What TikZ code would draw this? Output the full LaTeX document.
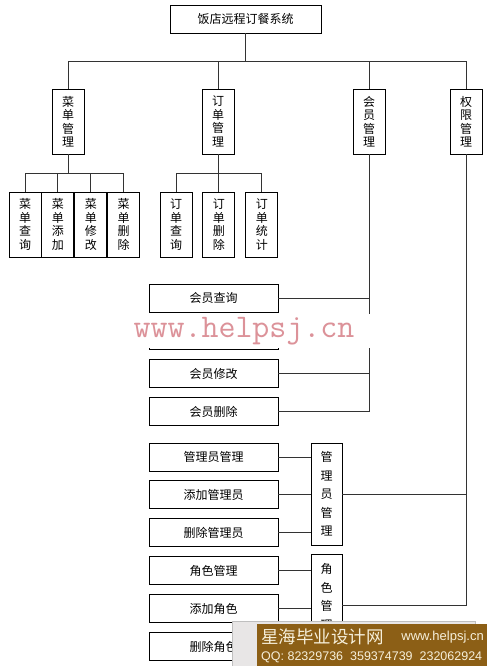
\documentclass[tikz,border=0pt]{standalone}
\usepackage{fontspec}
\setmainfont{Noto Sans CJK SC}
\newfontfamily\latinfont{Liberation Sans}
\usetikzlibrary{positioning}
\definecolor{WaterPink}{HTML}{DC9299}
\definecolor{BannerBrown}{HTML}{8C5F16}
\definecolor{BannerGray}{HTML}{E8E6E6}
\definecolor{BannerText}{HTML}{F6EFDA}

\begin{document}
\begin{tikzpicture}[
        x=1pt, y=-1pt,
        font=\fontsize{12}{13.5}\selectfont,
        node distance=9pt,
        box/.style={draw, line width=0.9pt, inner sep=0pt, align=center},
        vbox/.style={box, minimum width=32, minimum height=65},
        hbox/.style={box, minimum width=129, minimum height=28},
        tallbox/.style={box, minimum width=31, minimum height=102, font=\fontsize{12}{18.5}\selectfont},
        link/.style={draw=black!80, line width=0.9pt}
      ]
        \useasboundingbox (0,0) rectangle (487,666);
        \node[box, minimum width=151, minimum height=28] (root) at (245.5,19) {饭店远程订餐系统};
        \node[vbox] (menu) at (68,121.5) {菜\\单\\管\\理};
        \node[vbox] (order) at (218,121.5) {订\\单\\管\\理};
        \node[vbox] (member) at (369,121.5) {会\\员\\管\\理};
        \node[vbox] (perm) at (466,121.5) {权\\限\\管\\理};
        \node[vbox] (mq) at (25,224.5) {菜\\单\\查\\询};
        \node[vbox, right=0pt of mq] (ma) {菜\\单\\添\\加};
        \node[vbox, right=0pt of ma] (me) {菜\\单\\修\\改};
        \node[vbox, right=0pt of me] (md) {菜\\单\\删\\除};
        \node[vbox] (oq) at (176,224.5) {订\\单\\查\\询};
        \node[vbox, right=10pt of oq] (od) {订\\单\\删\\除};
        \node[vbox, right=10pt of od] (os) {订\\单\\统\\计};
        \node[hbox] (vq) at (213.5,298) {会员查询};
        \node[hbox, below=of vq] (va) {};
        \node[hbox, below=of va] (ve) {会员修改};
        \node[hbox, below=of ve] (vd) {会员删除};
        \node[hbox] (am) at (213.5,457) {管理员管理};
        \node[hbox, below=of am] (aa) {添加管理员};
        \node[hbox, below=of aa] (ad) {删除管理员};
        \node[hbox, below=of ad] (rm) {角色管理};
        \node[hbox, below=of rm] (ra) {添加角色};
        \node[hbox, below=of ra] (rd) {删除角色};
        \node[tallbox] (agrp) at (326.5,494) {管\\理\\员\\管\\理};
        \node[tallbox, below=of agrp] (rgrp) {角\\色\\管\\理\\\mbox{}};
        \coordinate (topbus) at (0,61);
        \coordinate (menubus) at (0,173);
        \draw[link] (root.south) -- (root.south |- topbus);
        \draw[link] (menu.north) |- (perm.north |- topbus) -- (perm.north);
        \draw[link] (order.north) -- (order.north |- topbus);
        \draw[link] (member.north) -- (member.north |- topbus);
        \draw[link] (menu.south) -- (menu.south |- menubus);
        \draw[link] (mq.north) |- (md.north |- menubus) -- (md.north);
        \draw[link] (ma.north) -- (ma.north |- menubus);
        \draw[link] (me.north) -- (me.north |- menubus);
        \draw[link] (order.south) -- (order.south |- menubus);
        \draw[link] (oq.north) |- (os.north |- menubus) -- (os.north);
        \draw[link] (od.north) -- (od.north |- menubus);
        \draw[link] (member.south) |- (vd.east);
        \foreach \n in {vq,va,ve}
          \draw[link] (\n.east) -- (\n.east -| member.south);
        \foreach \n in {am,aa,ad}
          \draw[link] (\n.east) -- (\n.east -| agrp.west);
        \foreach \n in {rm,ra,rd}
          \draw[link] (\n.east) -- (\n.east -| rgrp.west);
        \draw[link] (perm.south) |- (rgrp.east);
        \draw[link] (agrp.east) -- (agrp.east -| perm.south);
        \node[fill=white, inner sep=0pt, minimum width=254, minimum height=34,
          text=WaterPink, font=\ttfamily\fontsize{33}{33}\selectfont] (wmark) at (244,331) {www.helpsj.cn};
        \node[fill=BannerGray, draw=black!25, anchor=north west, inner sep=0pt,
          minimum width=243, minimum height=46] (banner) at (232,621) {};
        \node[fill=BannerBrown, anchor=north west, inner sep=0pt,
          minimum width=230, minimum height=42] (logo) at (257,624) {};
        \node[anchor=west, inner sep=0pt, text=BannerText, font=\fontsize{17.5}{17.5}\selectfont] (sitename) at (261,636.5) {星海毕业设计网};
        \node[anchor=east, inner sep=0pt, text=BannerText, font=\latinfont\fontsize{13}{13}\selectfont] (siteurl) at (484,637) {www.helpsj.cn};
        \node[anchor=west, inner sep=0pt, text=BannerText, font=\latinfont\fontsize{12.5}{12.5}\selectfont] (siteqq) at (261,657) {QQ: 82329736\ \ 359374739\ \ 232062924};
      \end{tikzpicture}
\end{document}
